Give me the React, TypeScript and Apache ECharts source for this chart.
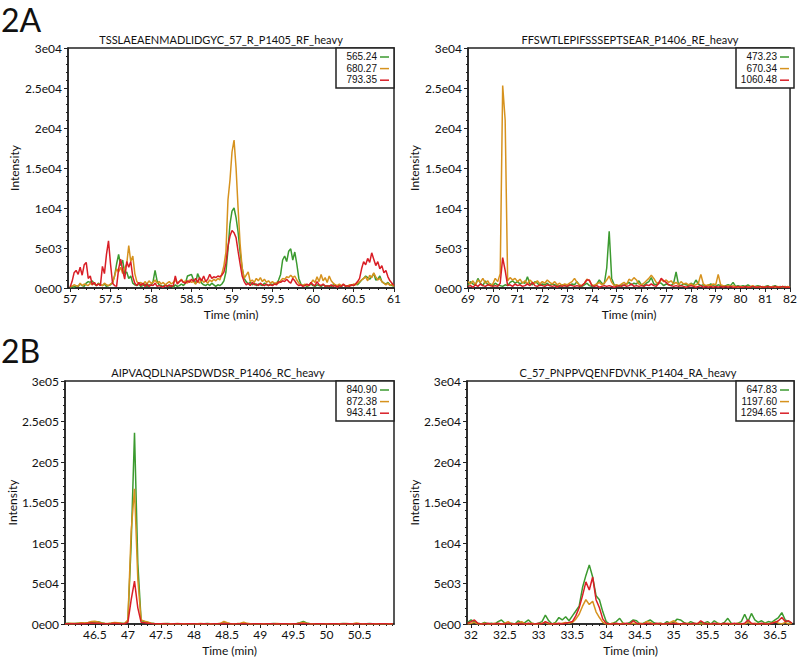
import React, { useEffect, useRef } from 'react';
import * as echarts from 'echarts';

const FONT = 'Lato, "Open Sans", sans-serif';
const LEGEND_FONT = '"Liberation Sans", Arial, sans-serif';
const COLORS = ['#3b9a2f', '#d6921e', '#d91e26'];
const INK = '#222';

// ---------- Panel 1 (2A left) ----------
const P1_TITLE = 'TSSLAEAENMADLIDGYC_57_R_P1405_RF_heavy';
const P1_NAMES = ['565.24', '680.27', '793.35'];
const P1_T0 = 57;
const P1_DT = 0.025;
const P1_GREEN = [
  0, 200, 100, 300, 200, 500, 300, 200, 600, 800,
  700, 900, 500, 300, 600, 400, 300, 500, 200, 300,
  400, 700, 1500, 3000, 4200, 2800, 3500, 1800, 2000, 1200,
  1500, 600, 400, 300, 500, 200, 300, 500, 200, 400,
  300, 800, 2200, 900, 400, 300, 200, 400, 300, 200,
  300, 100, 400, 200, 300, 500, 300, 600, 1500, 1600,
  1700, 1000, 500, 1800, 1200, 600, 400, 300, 500, 300,
  600, 400, 200, 400, 300, 500, 900, 2000, 4800, 8000,
  9600, 10000, 8800, 7000, 4500, 2500, 1200, 800, 500, 700,
  400, 600, 300, 500, 400, 300, 600, 400, 300, 500,
  400, 600, 500, 1000, 1700, 3500, 4000, 3300, 4600, 4900,
  3500, 4500, 3000, 1200, 500, 300, 400, 200, 300, 500,
  300, 200, 400, 300, 200, 400, 300, 200, 300, 200,
  400, 300, 200, 300, 200, 400, 300, 200, 300, 400,
  300, 500, 400, 700, 1000, 1200, 1500, 1300, 1100, 1400,
  1800, 1000, 1100, 1500, 800, 600, 500, 700, 400, 300,
  200,
];
const P1_ORANGE = [
  300, 200, 400, 300, 200, 600, 300, 500, 400, 300,
  600, 400, 700, 300, 500, 400, 300, 600, 400, 300,
  500, 600, 1500, 2400, 2000, 2600, 1800, 2500, 3000, 5300,
  3300, 4000, 1800, 800, 500, 700, 400, 800, 500, 900,
  600, 700, 1000, 600, 800, 500, 700, 400, 600, 800,
  500, 700, 1000, 600, 800, 1100, 700, 900, 600, 1000,
  700, 800, 500, 900, 600, 1100, 700, 900, 600, 1000,
  800, 1100, 900, 1200, 1000, 1800, 2800, 4500, 11000, 13500,
  17000, 18500, 15000, 10000, 5500, 2500, 1200, 1600, 2000, 800,
  1000, 700, 1200, 900, 1300, 800, 1100, 700, 900, 600,
  800, 500, 700, 600, 900, 1200, 1100, 1400, 1300, 1600,
  1300, 1500, 1000, 600, 400, 300, 500, 300, 400, 600,
  1000, 700, 1400, 800, 1700, 900, 1300, 700, 1500, 900,
  600, 400, 300, 500, 300, 400, 300, 200, 400, 300,
  500, 400, 600, 800, 1000, 1200, 1400, 900, 1600, 1300,
  1900, 1400, 1000, 1200, 800, 600, 400, 600, 300, 500,
  200,
];
const P1_RED = [
  100, 800, 1900, 2200, 1700, 2600, 1600, 2900, 3200, 1200,
  1500, 400, 700, 300, 500, 300, 2700, 1800, 4200, 5900,
  3000, 600, 300, 200, 2400, 3600, 2200, 1100, 3300, 2600,
  3300, 1400, 600, 300, 700, 300, 600, 200, 500, 200,
  400, 300, 600, 200, 300, 200, 100, 300, 200, 400,
  200, 300, 1500, 500, 800, 1000, 700, 600, 900, 700,
  1100, 800, 1200, 700, 1300, 900, 1500, 800, 1100, 1700,
  1200, 1400, 1300, 1500, 1400, 1600, 2000, 3100, 5200, 6500,
  7200, 6900, 6300, 4600, 3000, 1500, 800, 400, 600, 300,
  700, 400, 500, 300, 600, 400, 300, 500, 300, 400,
  300, 500, 400, 800, 700, 900, 800, 1100, 800, 600,
  1200, 900, 500, 300, 400, 200, 300, 500, 300, 700,
  400, 300, 800, 400, 300, 500, 200, 300, 200, 400,
  200, 300, 100, 300, 200, 500, 200, 300, 200, 400,
  300, 500, 800, 1200, 2400, 3300, 2900, 3700, 3200, 4400,
  3600, 2800, 3300, 2400, 2800, 1900, 2200, 1400, 900, 600,
  300,
];
const P1_XTICKS = [57, 57.5, 58, 58.5, 59, 59.5, 60, 60.5, 61];
const P1_YTICKS = [0, 5000, 10000, 15000, 20000, 25000, 30000];
const P1_YLABELS = ['0e00', '5e03', '1e04', '1.5e04', '2e04', '2.5e04', '3e04'];

// ---------- Panel 2 (2A right) ----------
const P2_TITLE = 'FFSWTLEPIFSSSEPTSEAR_P1406_RE_heavy';
const P2_NAMES = ['473.23', '670.34', '1060.48'];
const P2_T0 = 69;
const P2_DT = 0.1;
const P2_GREEN = [
  300, 800, 500, 400, 1200, 600, 300, 900, 400, 500,
  300, 600, 400, 300, 200, 400, 300, 700, 900, 600,
  800, 500, 700, 600, 1400, 500, 400, 800, 600, 300,
  500, 400, 600, 300, 500, 400, 300, 200, 400, 300,
  200, 300, 500, 400, 800, 300, 200, 400, 600, 300,
  200, 300, 500, 1000, 600, 500, 2500, 7100, 1200, 400,
  300, 200, 400, 300, 500, 700, 400, 600, 500, 900,
  400, 300, 600, 800, 1300, 500, 400, 700, 600, 300,
  500, 400, 300, 600, 2000, 400, 300, 500, 400, 300,
  600, 400, 1000, 500, 300, 400, 200, 300, 500, 300,
  200, 400, 300, 200, 300, 400, 300, 700, 200, 300,
  200, 300, 200, 400, 200, 100, 200, 300, 200, 100,
  200, 300, 100, 200, 300, 100, 200, 100, 200, 100,
  200,
];
const P2_ORANGE = [
  800, 500, 900, 400, 1000, 700, 1200, 600, 900, 300,
  500, 1200, 800, 1800, 25300, 21000, 900, 1300, 1000, 1200,
  800, 1100, 600, 900, 500, 1000, 700, 600, 900, 500,
  800, 600, 1000, 700, 500, 800, 400, 600, 300, 500,
  400, 600, 800, 1200, 700, 400, 300, 600, 1100, 900,
  400, 300, 500, 700, 400, 600, 1000, 1500, 700, 300,
  400, 300, 500, 700, 400, 1100, 900, 1300, 1000, 500,
  400, 600, 900, 1200, 1600, 1200, 700, 500, 1100, 800,
  1000, 700, 900, 500, 700, 400, 800, 500, 600, 400,
  500, 300, 400, 600, 1700, 500, 300, 400, 300, 500,
  400, 1700, 400, 300, 200, 300, 200, 300, 200, 100,
  200, 100, 200, 100, 200, 300, 100, 200, 100, 200,
  100, 200, 100, 200, 100, 200, 100, 200, 100, 200,
  100,
];
const P2_RED = [
  200, 300, 100, 400, 200, 500, 300, 200, 400, 300,
  200, 300, 200, 600, 3800, 2200, 300, 400, 200, 500,
  300, 400, 200, 300, 500, 300, 700, 300, 200, 400,
  300, 200, 400, 300, 200, 300, 100, 300, 200, 300,
  200, 400, 300, 200, 300, 200, 300, 600, 1000, 1000,
  300, 200, 300, 100, 200, 300, 200, 300, 200, 100,
  200, 300, 200, 400, 200, 300, 500, 200, 300, 200,
  300, 200, 400, 300, 500, 300, 200, 600, 1200, 900,
  700, 400, 300, 200, 300, 200, 300, 200, 100, 200,
  300, 200, 100, 200, 300, 100, 200, 100, 200, 100,
  200, 100, 200, 100, 200, 100, 200, 100, 100, 200,
  100, 100, 200, 100, 100, 200, 100, 100, 200, 100,
  100, 200, 100, 100, 200, 100, 100, 200, 100, 100,
  100,
];
const P2_XTICKS = [69, 70, 71, 72, 73, 74, 75, 76, 77, 78, 79, 80, 81, 82];
const P2_YTICKS = [0, 5000, 10000, 15000, 20000, 25000, 30000];
const P2_YLABELS = ['0e00', '5e03', '1e04', '1.5e04', '2e04', '2.5e04', '3e04'];

// ---------- Panel 3 (2B left) ----------
const P3_TITLE = 'AIPVAQDLNAPSDWDSR_P1406_RC_heavy';
const P3_NAMES = ['840.90', '872.38', '943.41'];
const P3_T0 = 46.05;
const P3_DT = 0.05;
const P3_GREEN = [
  500, 800, 300, 600, 900, 1200, 800, 1500, 2500, 2000,
  2800, 1500, 600, 400, 800, 1500, 1000, 800, 500, 4000,
  100000, 236000, 75000, 4000, 3000, 2000, 800, 500, 300, 400,
  300, 500, 200, 400, 300, 200, 400, 300, 200, 300,
  400, 200, 300, 500, 300, 200, 400, 600, 1200, 800,
  300, 200, 400, 300, 900, 400, 200, 300, 200, 400,
  300, 200, 300, 500, 300, 200, 400, 300, 200, 300,
  500, 1500, 3200, 1200, 400, 300, 200, 400, 300, 200,
  300, 400, 200, 300, 500, 200, 300, 200, 400, 300,
  200, 300, 500, 200, 300, 400, 200, 300, 200, 300,
];
const P3_ORANGE = [
  300, 600, 900, 500, 1000, 1500, 1200, 2000, 3200, 3500,
  2500, 1200, 800, 500, 1200, 2000, 1500, 1000, 700, 5000,
  115000, 167000, 55000, 5000, 3500, 2500, 1000, 600, 400, 300,
  500, 300, 400, 200, 500, 300, 200, 400, 300, 200,
  300, 500, 200, 300, 400, 200, 300, 800, 3200, 1500,
  400, 300, 500, 900, 2200, 800, 300, 200, 400, 300,
  200, 400, 300, 200, 500, 300, 200, 400, 300, 200,
  400, 1200, 2000, 900, 300, 200, 400, 300, 200, 300,
  200, 400, 300, 200, 300, 500, 200, 300, 1200, 500,
  200, 300, 200, 400, 300, 200, 300, 200, 300, 200,
];
const P3_RED = [
  200, 300, 200, 400, 300, 500, 400, 800, 1200, 1000,
  900, 600, 400, 300, 500, 800, 600, 400, 300, 2000,
  30000, 53000, 20000, 2000, 1500, 1000, 500, 300, 200, 300,
  200, 300, 100, 200, 300, 200, 100, 200, 300, 200,
  100, 200, 300, 200, 100, 200, 300, 200, 500, 300,
  200, 100, 200, 300, 400, 200, 100, 200, 300, 200,
  100, 200, 300, 200, 100, 200, 300, 200, 100, 200,
  300, 500, 700, 400, 200, 100, 200, 300, 200, 100,
  200, 300, 200, 100, 200, 300, 200, 100, 300, 200,
  100, 200, 300, 200, 100, 200, 300, 200, 100, 200,
];
const P3_XTICKS = [46.5, 47, 47.5, 48, 48.5, 49, 49.5, 50, 50.5];
const P3_YTICKS = [0, 50000, 100000, 150000, 200000, 250000, 300000];
const P3_YLABELS = ['0e00', '5e04', '1e05', '1.5e05', '2e05', '2.5e05', '3e05'];

// ---------- Panel 4 (2B right) ----------
const P4_TITLE = 'C_57_PNPPVQENFDVNK_P1404_RA_heavy';
const P4_NAMES = ['647.83', '1197.60', '1294.65'];
const P4_T0 = 31.95;
const P4_DT = 0.05;
const P4_GREEN = [
  200, 500, 300, 100, 0, 200, 0, 100, 0, 300,
  500, 100, 0, 100, 0, 400, 100, 200, 500, 100,
  0, 100, 300, 1100, 400, 0, 200, 800, 500, 900,
  400, 1000, 1600, 2200, 4500, 6000, 7300, 5800, 3500, 3000,
  1500, 300, 0, 100, 300, 700, 100, 0, 200, 500,
  400, 0, 100, 300, 500, 200, 0, 100, 0, 300,
  100, 200, 600, 500, 200, 0, 300, 100, 0, 200,
  100, 300, 0, 400, 100, 0, 200, 700, 100, 0,
  100, 300, 1200, 300, 1300, 500, 200, 400, 100, 300,
  200, 500, 800, 1400, 500, 300, 100,
];
const P4_ORANGE = [
  0, 100, 200, 0, 0, 100, 0, 0, 100, 0,
  0, 100, 300, 0, 0, 100, 300, 0, 0, 100,
  0, 0, 100, 200, 0, 0, 100, 0, 100, 200,
  100, 200, 600, 1200, 2200, 3000, 2400, 2800, 1500, 800,
  200, 0, 0, 100, 0, 0, 100, 0, 0, 100,
  0, 100, 0, 300, 200, 0, 0, 100, 0, 0,
  200, 400, 100, 0, 0, 100, 0, 0, 100, 0,
  0, 100, 0, 0, 100, 0, 0, 100, 0, 0,
  100, 0, 0, 200, 0, 100, 0, 0, 100, 0,
  100, 300, 100, 0, 200, 0, 100,
];
const P4_RED = [
  100, 300, 500, 100, 0, 0, 100, 0, 0, 100,
  0, 0, 100, 0, 0, 100, 0, 0, 100, 0,
  0, 100, 0, 300, 100, 0, 0, 100, 0, 100,
  200, 300, 1000, 2000, 3500, 5200, 4200, 5800, 3000, 2000,
  600, 100, 0, 0, 100, 0, 0, 100, 0, 400,
  100, 0, 0, 100, 0, 0, 100, 0, 0, 100,
  0, 100, 0, 0, 100, 0, 0, 100, 0, 400,
  100, 0, 0, 100, 0, 0, 100, 0, 0, 100,
  0, 0, 100, 500, 100, 0, 0, 100, 0, 0,
  100, 200, 400, 800, 300, 400, 100,
];
const P4_XTICKS = [32, 32.5, 33, 33.5, 34, 34.5, 35, 35.5, 36, 36.5];
const P4_YTICKS = [0, 5000, 10000, 15000, 20000, 25000, 30000];
const P4_YLABELS = ['0e00', '5e03', '1e04', '1.5e04', '2e04', '2.5e04', '3e04'];

const X_NAME = 'Time (min)';
const Y_NAME = 'Intensity';
const FIG_LABELS = ['2A', '2B'];

function pairs(t0: number, dt: number, vals: number[]) {
  return vals.map((v, i) => [Math.round((t0 + i * dt) * 10000) / 10000, v]);
}

function minorValues(min: number, max: number, step: number) {
  const out: number[] = [];
  const start = Math.ceil(min / step - 1e-6);
  for (let k = start; k * step <= max + 1e-6; k++) out.push(Math.round(k * step * 1000) / 1000);
  return out;
}

const PANELS = [
  {
    title: P1_TITLE, names: P1_NAMES, data: [pairs(P1_T0, P1_DT, P1_GREEN), pairs(P1_T0, P1_DT, P1_ORANGE), pairs(P1_T0, P1_DT, P1_RED)],
    xMin: 56.975, xMax: 61, xTicks: P1_XTICKS, minorStep: 0.1, yMax: 30000, yTicks: P1_YTICKS, yLabels: P1_YLABELS,
    grid: { left: 68, top: 48, width: 326, height: 240 }, titleX: 221, titleY: 39, yNameGap: 48,
  },
  {
    title: P2_TITLE, names: P2_NAMES, data: [pairs(P2_T0, P2_DT, P2_GREEN), pairs(P2_T0, P2_DT, P2_ORANGE), pairs(P2_T0, P2_DT, P2_RED)],
    xMin: 69, xMax: 82, xTicks: P2_XTICKS, minorStep: 0.25, yMax: 30000, yTicks: P2_YTICKS, yLabels: P2_YLABELS,
    grid: { left: 468, top: 48, width: 326, height: 240 }, titleX: 630, titleY: 39, yNameGap: 48,
  },
  {
    title: P3_TITLE, names: P3_NAMES, data: [pairs(P3_T0, P3_DT, P3_GREEN), pairs(P3_T0, P3_DT, P3_ORANGE), pairs(P3_T0, P3_DT, P3_RED)],
    xMin: 46.05, xMax: 51.02, xTicks: P3_XTICKS, minorStep: 0.1, yMax: 300000, yTicks: P3_YTICKS, yLabels: P3_YLABELS,
    grid: { left: 65, top: 381, width: 329, height: 243 }, titleX: 218, titleY: 372, yNameGap: 46,
  },
  {
    title: P4_TITLE, names: P4_NAMES, data: [pairs(P4_T0, P4_DT, P4_GREEN), pairs(P4_T0, P4_DT, P4_ORANGE), pairs(P4_T0, P4_DT, P4_RED)],
    xMin: 31.94, xMax: 36.78, xTicks: P4_XTICKS, minorStep: 0.1, yMax: 30000, yTicks: P4_YTICKS, yLabels: P4_YLABELS,
    grid: { left: 467, top: 381, width: 327, height: 243 }, titleX: 628, titleY: 372, yNameGap: 47,
  },
];

function buildOption() {
  const grid: any[] = [];
  const xAxis: any[] = [];
  const yAxis: any[] = [];
  const series: any[] = [];
  const graphic: any[] = [];

  PANELS.forEach((p, k) => {
    grid.push({ ...p.grid, show: true, borderColor: INK, borderWidth: 1.5, backgroundColor: '#fff', containLabel: false });
    xAxis.push({
      type: 'value', gridIndex: k, min: p.xMin, max: p.xMax,
      axisLine: { show: true, onZero: false, lineStyle: { color: INK, width: 1.5 } },
      axisTick: { show: true, customValues: p.xTicks, length: 4, lineStyle: { color: INK, width: 1 } },
      axisLabel: { customValues: p.xTicks, margin: 4, fontSize: 12, fontFamily: FONT, color: '#111', formatter: (v: number) => String(v) },
      splitLine: { show: false },
      name: X_NAME, nameLocation: 'middle', nameGap: 20,
      nameTextStyle: { fontSize: 12, fontFamily: FONT, color: '#111' },
    });
    xAxis.push({
      type: 'value', gridIndex: k, min: p.xMin, max: p.xMax, position: 'bottom',
      axisLine: { show: false },
      axisTick: { show: true, customValues: minorValues(p.xMin, p.xMax, p.minorStep), length: 2, lineStyle: { color: INK, width: 1 } },
      axisLabel: { show: false },
      splitLine: { show: false },
    });
    yAxis.push({
      type: 'value', gridIndex: k, min: 0, max: p.yMax, interval: p.yTicks[1],
      axisLine: { show: true, onZero: false, lineStyle: { color: INK, width: 1.5 } },
      axisTick: { show: true, length: 4, lineStyle: { color: INK, width: 1 } },
      minorTick: { show: true, splitNumber: 5, length: 2, lineStyle: { color: INK, width: 1 } },
      axisLabel: {
        margin: 6, fontSize: 12, fontFamily: FONT, color: '#111',
        formatter: (v: number) => { const i = p.yTicks.indexOf(v); return i >= 0 ? p.yLabels[i] : ''; },
      },
      splitLine: { show: false },
      name: Y_NAME, nameLocation: 'middle', nameGap: p.yNameGap,
      nameTextStyle: { fontSize: 12, fontFamily: FONT, color: '#111' },
    });
    p.data.forEach((d, j) => {
      series.push({
        type: 'line', name: p.names[j], xAxisIndex: 2 * k, yAxisIndex: k, data: d,
        showSymbol: false, symbol: 'none', z: 2 + j,
        lineStyle: { color: COLORS[j], width: 1.5 }, itemStyle: { color: COLORS[j] },
      });
    });

    // title
    graphic.push({
      type: 'text', x: p.titleX, y: p.titleY,
      style: { text: p.title, font: `11px ${FONT}`, fill: '#111', textAlign: 'center', textVerticalAlign: 'middle' },
    });
    // legend box
    const right = p.grid.left + p.grid.width;
    const top = p.grid.top;
    const boxW = 58;
    graphic.push({
      type: 'rect', z: 50,
      shape: { x: right - boxW, y: top, width: boxW, height: 40 },
      style: { fill: '#fff', stroke: INK, lineWidth: 1.5 },
    });
    p.names.forEach((nm, j) => {
      const yy = top + 8.5 + j * 11.6;
      graphic.push({
        type: 'text', z: 51, x: right - 17, y: yy,
        style: { text: nm, font: `10px ${LEGEND_FONT}`, fill: '#111', textAlign: 'right', textVerticalAlign: 'middle' },
      });
      graphic.push({
        type: 'line', z: 51,
        shape: { x1: right - 14, y1: yy + 0.5, x2: right - 5, y2: yy + 0.5 },
        style: { stroke: COLORS[j], lineWidth: 1.5 },
      });
    });
  });

  graphic.push({ type: 'text', x: 1, y: 19, style: { text: FIG_LABELS[0], font: `32px ${FONT}`, fill: '#111', textVerticalAlign: 'middle' } });
  graphic.push({ type: 'text', x: 1, y: 350, style: { text: FIG_LABELS[1], font: `32px ${FONT}`, fill: '#111', textVerticalAlign: 'middle' } });

  return { animation: false, backgroundColor: '#fff', grid, xAxis, yAxis, series, graphic };
}

export default function App() {
  const ref = useRef<HTMLDivElement>(null);
  useEffect(() => {
    if (!ref.current) return;
    const chart = echarts.init(ref.current, undefined, { renderer: 'svg' });
    chart.setOption(buildOption() as any);
    return () => chart.dispose();
  }, []);
  return (
    <div
      ref={ref}
      style={{ position: 'absolute', left: 0, top: 0, width: 800, height: 670, background: '#fff' }}
    />
  );
}
